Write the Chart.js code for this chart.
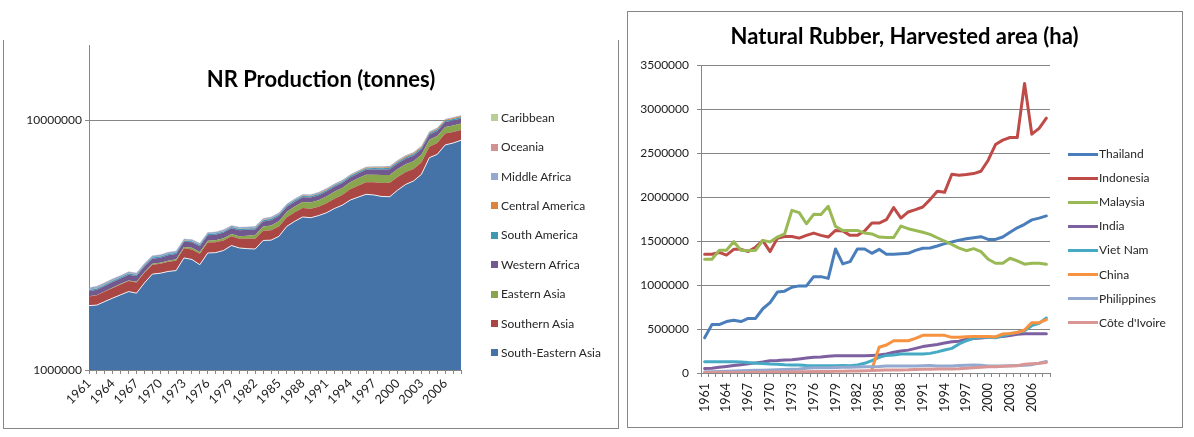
<!DOCTYPE html>
<html><head><meta charset="utf-8">
<script src="https://cdn.jsdelivr.net/npm/chart.js@4.4.1/dist/chart.umd.min.js"></script>
<style>
html,body{margin:0;padding:0;background:#fff;}
body{width:1194px;height:437px;position:relative;overflow:hidden;font-family:Lato,'Open Sans',sans-serif;color:#1a1a1a;}
canvas{position:absolute;left:0;top:0;}
.frame{position:absolute;border-color:#868686;border-style:solid;box-sizing:border-box;}
.title{position:absolute;text-align:center;font-weight:bold;font-size:22px;line-height:28px;color:#000;white-space:nowrap;}
.leg{position:absolute;font-size:12px;line-height:16px;height:16px;white-space:nowrap;color:#262626;}
.sw{position:absolute;}
</style></head><body>
<div class="frame" style="left:3px;top:40px;width:616px;height:389px;border-width:0 1px 1px 1px;"></div>
<div class="frame" style="left:627px;top:11px;width:556px;height:417px;border-width:1px;"></div>
<canvas id="left" width="1194" height="437"></canvas>
<canvas id="right" width="1194" height="437"></canvas>
<div class="title" style="left:0;width:642px;top:65px;">NR Production (tonnes)</div>
<div class="title" style="left:627px;width:555px;top:22px;">Natural Rubber, Harvested area (ha)</div>
<div id="legL"></div><div id="legR"></div>
<script>
// ---------- categories ----------
const years = ['1961','1962','1963','1964','1965','1966','1967','1968','1969','1970',
  '1971','1972','1973','1974','1975','1976','1977','1978','1979','1980',
  '1981','1982','1983','1984','1985','1986','1987','1988','1989','1990',
  '1991','1992','1993','1994','1995','1996','1997','1998','1999','2000',
  '2001','2002','2003','2004','2005','2006','2007','2008'];

// ---------- left chart: NR production (tonnes), stacked ----------
const prodSouthEasternAsia = [1810000,1820000,1880000,1940000,2000000,2060000,2030000,2230000,2420000,2440000,
  2480000,2500000,2810000,2770000,2640000,2940000,2950000,3010000,3150000,3080000,
  3060000,3050000,3300000,3310000,3430000,3760000,3940000,4100000,4070000,4150000,
  4260000,4430000,4570000,4790000,4920000,5050000,5020000,4950000,4940000,5250000,
  5530000,5710000,6070000,7080000,7300000,7960000,8100000,8310000];
const prodSouthernAsia = [160000,170000,180000,190000,200000,210000,210000,220000,220000,220000,
  230000,240000,260000,270000,280000,300000,300000,290000,280000,270000,
  290000,300000,310000,320000,320000,330000,340000,350000,350000,350000,
  390000,420000,450000,500000,550000,600000,620000,660000,680000,680000,
  670000,660000,700000,750000,800000,880000,860000,830000];
const prodEasternAsia = [5000,6000,8000,10000,12000,14000,16000,18000,20000,25000,
  30000,35000,40000,45000,50000,55000,60000,70000,75000,80000,
  100000,120000,140000,160000,190000,210000,230000,250000,260000,280000,
  300000,320000,330000,350000,380000,400000,410000,420000,410000,440000,
  460000,480000,500000,520000,540000,550000,570000,560000];
const prodWesternAfrica = [90000,100000,100000,110000,110000,120000,120000,130000,130000,130000,
  140000,140000,150000,160000,160000,170000,170000,180000,190000,200000,
  190000,180000,180000,190000,200000,200000,210000,210000,220000,220000,
  230000,240000,250000,260000,270000,280000,300000,310000,330000,340000,
  350000,360000,380000,400000,420000,440000,450000,460000];
const prodSouthAmerica = [25000,26000,27000,28000,29000,30000,30000,30000,30000,30000,
  30000,31000,32000,33000,34000,35000,36000,37000,38000,40000,
  42000,45000,48000,50000,52000,55000,58000,60000,62000,65000,
  68000,70000,72000,75000,78000,80000,82000,85000,88000,90000,
  95000,100000,105000,110000,115000,120000,125000,130000];
const prodCentralAmerica = [2000,2000,2000,2000,2000,3000,3000,3000,3000,3000,
  4000,4000,5000,5000,6000,6000,7000,8000,9000,10000,
  11000,12000,13000,14000,15000,16000,18000,20000,22000,24000,
  26000,28000,30000,32000,35000,38000,40000,45000,50000,55000,
  60000,65000,70000,75000,80000,90000,95000,100000];
const prodMiddleAfrica = [40000,40000,40000,38000,36000,35000,35000,40000,42000,45000,
  47000,48000,50000,50000,50000,48000,48000,50000,50000,50000,
  50000,52000,52000,54000,55000,56000,56000,58000,58000,60000,
  60000,60000,58000,56000,55000,55000,56000,58000,60000,62000,
  64000,65000,66000,67000,68000,69000,70000,70000];
const prodOceania = [5000,5000,5000,5000,5000,6000,6000,6000,6000,6000,
  6000,6000,6000,6000,6000,6000,5000,5000,5000,5000,
  5000,5000,5000,5000,5000,5000,4000,4000,4000,4000,
  4000,4000,4000,4000,4000,4000,5000,5000,5000,5000,
  6000,6000,7000,7000,7000,8000,8000,8000];
const prodCaribbean = [800,800,800,800,800,800,800,700,700,700,
  700,700,700,700,600,600,600,600,600,600,
  600,600,500,500,500,500,500,500,500,500,
  500,500,500,500,500,500,500,500,500,500,
  500,500,500,500,500,500,500,500];

const regionNames = ['South-Eastern Asia','Southern Asia','Eastern Asia','Western Africa','South America','Central America','Middle Africa','Oceania','Caribbean'];
const regionSeries = [prodSouthEasternAsia,prodSouthernAsia,prodEasternAsia,prodWesternAfrica,prodSouthAmerica,prodCentralAmerica,prodMiddleAfrica,prodOceania,prodCaribbean];
const regionColors = ['#4572A7','#AA4643','#89A54E','#71588F','#4198AF','#DB843D','#93A9CF','#D19392','#B9CD96'];
const prodTicks = [1000000, 10000000];

// ---------- right chart: harvested area (ha) ----------
const areaThailand = [400000,550000,550000,585000,600000,585000,620000,620000,730000,800000,
  920000,930000,975000,990000,990000,1095000,1095000,1075000,1410000,1240000,
  1265000,1410000,1410000,1360000,1405000,1350000,1350000,1356000,1360000,1394000,
  1417000,1420000,1443000,1470000,1488000,1510000,1526000,1537000,1549000,1518000,
  1518000,1545000,1600000,1650000,1690000,1740000,1760000,1785000];
const areaIndonesia = [1350000,1350000,1370000,1340000,1405000,1405000,1380000,1430000,1505000,1380000,
  1530000,1550000,1552000,1533000,1564000,1590000,1564000,1545000,1620000,1613000,
  1564000,1564000,1613000,1704000,1704000,1742000,1879000,1761000,1830000,1856000,
  1886000,1970000,2065000,2053000,2258000,2247000,2255000,2266000,2293000,2418000,
  2596000,2646000,2676000,2676000,3291000,2714000,2780000,2896000];
const areaMalaysia = [1292000,1292000,1394000,1394000,1492000,1394000,1390000,1394000,1507000,1490000,
  1545000,1580000,1848000,1822000,1696000,1803000,1800000,1894000,1666000,1620000,
  1620000,1620000,1590000,1580000,1545000,1540000,1540000,1670000,1640000,1620000,
  1600000,1575000,1537000,1500000,1460000,1420000,1390000,1413000,1379000,1292000,
  1247000,1247000,1304000,1274000,1236000,1247000,1247000,1236000];
const areaIndia = [50000,55000,65000,75000,85000,95000,105000,115000,125000,140000,
  142000,148000,151000,160000,170000,180000,183000,190000,196000,196000,
  196000,196000,196000,200000,205000,215000,235000,249000,260000,280000,
  300000,313000,325000,340000,355000,362000,385000,392000,398000,405000,
  408000,415000,426000,440000,445000,445000,445000,445000];
const areaVietNam = [128000,128000,128000,128000,128000,126000,118000,112000,107000,102000,
  100000,95000,92000,90000,84000,82000,82000,82000,82000,86000,
  82000,92000,110000,140000,178000,200000,205000,216000,216000,216000,
  216000,223000,240000,261000,280000,330000,367000,394000,405000,405000,
  400000,424000,443000,462000,481000,538000,564000,625000];
const areaChina = [null,null,null,null,null,null,null,null,null,null,
  null,null,null,null,null,null,null,null,null,null,
  null,null,null,40000,292000,318000,367000,367000,367000,394000,
  428000,428000,428000,428000,405000,405000,413000,415000,415000,415000,
  410000,443000,450000,460000,489000,572000,572000,606000];
const areaPhilippines = [15000,15000,18000,20000,22000,25000,28000,30000,32000,35000,
  38000,40000,42000,45000,55000,60000,60000,60000,62000,65000,
  65000,68000,70000,72000,75000,80000,80000,80000,80000,80000,
  82000,85000,80000,80000,80000,85000,88000,90000,88000,80000,
  80000,80000,82000,85000,88000,95000,110000,130000];
const areaCoteDIvoire = [5000,5000,5000,6000,6000,7000,7000,8000,9000,10000,
  11000,12000,13000,14000,15000,16000,17000,18000,19000,20000,
  22000,24000,26000,28000,32000,33000,34000,35000,36000,40000,
  42000,44000,45000,45000,45000,48000,55000,60000,65000,70000,
  72000,76000,80000,83000,100000,105000,110000,120000];

const countryNames = ['Thailand','Indonesia','Malaysia','India','Viet Nam','China','Philippines','Côte d\'Ivoire'];
const countrySeries = [areaThailand,areaIndonesia,areaMalaysia,areaIndia,areaVietNam,areaChina,areaPhilippines,areaCoteDIvoire];
const countryColors = ['#4A7EBB','#BE4B48','#98B954','#7D60A0','#46AAC5','#F69240','#93A9CF','#D99694'];
const areaMax = 3500000, areaStep = 500000;

// ---------- common ----------
Chart.defaults.font.family = "Lato, 'Open Sans', sans-serif";
Chart.defaults.color = '#1a1a1a';
const AX = '#868686';
const NONE = 'rgba(0,0,0,0)';

// Left chart
new Chart(document.getElementById('left'), {
  type: 'line',
  data: {
    labels: years,
    datasets: regionSeries.map((s, i) => ({
      label: regionNames[i],
      data: s,
      backgroundColor: regionColors[i],
      borderColor: i === 0 ? 'rgba(255,255,255,0.85)' : NONE,
      borderWidth: i === 0 ? 1 : 0,
      fill: i === 0 ? 'start' : '-1',
      pointRadius: 0,
      tension: 0
    }))
  },
  options: {
    responsive: false, animation: false, events: [],
    layout: { padding: { left: 9, right: 733, top: 45, bottom: 27 } },
    plugins: { legend: { display: false }, title: { display: false }, tooltip: { enabled: false } },
    scales: {
      x: {
        type: 'category', offset: false,
        grid: { drawOnChartArea: false, drawTicks: true, tickLength: 4, color: AX, tickColor: AX },
        border: { display: true, color: AX },
        ticks: { autoSkip: false, minRotation: 45, maxRotation: 45, padding: 2, font: { size: 12.5 }, color: '#1a1a1a',
          callback: (v, i) => (i % 3 === 0 ? years[i] : '') },
        afterFit: s => { s.height = 40; }
      },
      y: {
        type: 'logarithmic', stacked: true, min: 1000000, max: 20000000,
        grid: { drawTicks: true, tickLength: 4,
          color: c => (c.tick && c.tick.value === prodTicks[1]) ? AX : NONE,
          tickColor: c => (c.tick && prodTicks.includes(c.tick.value)) ? AX : NONE },
        border: { display: true, color: AX },
        ticks: { autoSkip: false, padding: 3, font: { size: 12 }, color: '#1a1a1a',
          callback: v => (prodTicks.includes(v) ? String(v) : '') },
        afterFit: s => { s.width = 80; }
      }
    }
  }
});

// Right chart
new Chart(document.getElementById('right'), {
  type: 'line',
  data: {
    labels: years,
    datasets: countrySeries.map((s, i) => ({
      label: countryNames[i],
      data: s,
      borderColor: countryColors[i],
      backgroundColor: countryColors[i],
      borderWidth: 3,
      borderJoinStyle: 'round',
      borderCapStyle: 'round',
      fill: false,
      pointRadius: 0,
      tension: 0,
      spanGaps: false,
      order: countrySeries.length - i
    }))
  },
  options: {
    responsive: false, animation: false, events: [],
    layout: { padding: { left: 621, right: 144, top: 65, bottom: 24 } },
    plugins: { legend: { display: false }, title: { display: false }, tooltip: { enabled: false } },
    scales: {
      x: {
        type: 'category', offset: true,
        grid: { offset: true, drawOnChartArea: false, drawTicks: true, tickLength: 4, color: AX, tickColor: AX },
        border: { display: true, color: AX },
        ticks: { autoSkip: false, minRotation: 90, maxRotation: 90, padding: 6, font: { size: 12.5 }, color: '#1a1a1a',
          callback: (v, i) => (i % 3 === 0 ? years[i] : '') },
        afterFit: s => { s.height = 40; }
      },
      y: {
        min: 0, max: areaMax,
        grid: { drawTicks: true, tickLength: 4, color: AX, tickColor: AX },
        border: { display: true, color: AX },
        ticks: { stepSize: areaStep, padding: 8, font: { size: 12 }, color: '#1a1a1a', callback: v => String(v) },
        afterFit: s => { s.width = 80; }
      }
    }
  }
});

// HTML legends built from the same series definitions
(function () {
  const L = document.getElementById('legL');
  const order = regionNames.map((n, i) => i).reverse();
  order.forEach((idx, row) => {
    const cy = 117.7 + row * 29.4;
    const sq = document.createElement('div');
    sq.className = 'sw';
    sq.style.cssText = `left:491px;top:${Math.round(cy - 3.5)}px;width:7px;height:7px;background:${regionColors[idx]};`;
    L.appendChild(sq);
    const t = document.createElement('div');
    t.className = 'leg';
    t.style.cssText = `left:501px;top:${Math.round(cy - 8)}px;`;
    t.textContent = regionNames[idx];
    L.appendChild(t);
  });
  const R = document.getElementById('legR');
  countryNames.forEach((n, i) => {
    const cy = 154 + i * 24.1;
    const ln = document.createElement('div');
    ln.className = 'sw';
    ln.style.cssText = `left:1068px;top:${Math.round(cy - 1.5)}px;width:30px;height:3px;background:${countryColors[i]};`;
    R.appendChild(ln);
    const t = document.createElement('div');
    t.className = 'leg';
    t.style.cssText = `left:1099px;top:${Math.round(cy - 8)}px;`;
    t.textContent = n;
    R.appendChild(t);
  });
})();
</script>
</body></html>
